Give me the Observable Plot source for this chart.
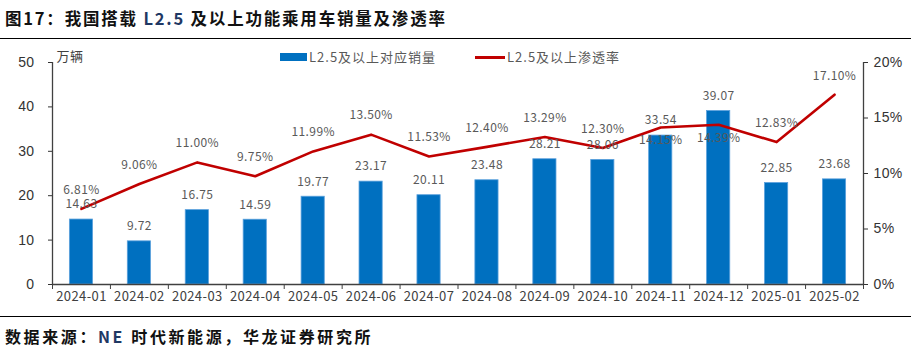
<!DOCTYPE html>
<html><head><meta charset="utf-8">
<script src="https://cdn.jsdelivr.net/npm/d3@7"></script>
<script src="https://cdn.jsdelivr.net/npm/@observablehq/plot@0.6"></script>
<style>
body{margin:0;background:#fff;}
#wrap{position:relative;width:911px;height:350px;overflow:hidden;font-family:"Noto Sans CJK SC",sans-serif;}
#title{position:absolute;left:5px;top:6px;font-size:16.5px;font-weight:bold;color:#111;white-space:nowrap;letter-spacing:1.8px;}
#rule1{position:absolute;left:0;top:38px;width:911px;height:0;border-top:1.5px solid #000;}
#chart{position:absolute;left:0;top:40px;}
#rule2{position:absolute;left:0;top:316px;width:911px;height:0;border-top:1.5px solid #000;}
#src{position:absolute;left:5px;top:324px;font-size:16px;font-weight:bold;color:#111;white-space:nowrap;letter-spacing:2.6px;}
.leg{position:absolute;font-size:13px;color:#595959;white-space:nowrap;letter-spacing:1px;}
svg text{letter-spacing:0.4px;}
</style></head>
<body>
<div id="wrap">
  <div id="title">图17：我国搭载 <span style="color:#1f3864">L2.5</span> 及以上功能乘用车销量及渗透率</div>
  <div id="rule1"></div>
  <div id="chart"></div>
  <div id="rule2"></div>
  <div id="src">数据来源：<span style="color:#1f3864">NE</span> 时代新能源，华龙证券研究所</div>
  <div style="position:absolute;left:280px;top:53px;width:27px;height:8px;background:#0070C0"></div>
  <div class="leg" style="left:309px;top:47px">L2.5及以上对应销量</div>
  <div style="position:absolute;left:475px;top:56px;width:30px;height:2.5px;background:#C00000"></div>
  <div class="leg" style="left:507px;top:47px">L2.5及以上渗透率</div>
</div>
<script>
const months = ["2024-01","2024-02","2024-03","2024-04","2024-05","2024-06","2024-07","2024-08","2024-09","2024-10","2024-11","2024-12","2025-01","2025-02"];
const sales = [14.63,9.72,16.75,14.59,19.77,23.17,20.11,23.48,28.21,28.06,33.54,39.07,22.85,23.68];
const rates = [6.81,9.06,11.00,9.75,11.99,13.50,11.53,12.40,13.29,12.30,14.15,14.39,12.83,17.10];
const leftTicks = [0,10,20,30,40,50];
const rightTicks = [0,5,10,15,20];
const unitLabel = "万辆";

const ratio = 50/20;
const data = months.map((m,i)=>({i, month:m, sales:sales[i], rate:rates[i], ry:rates[i]*ratio}));
const below = new Set(["2024-11","2024-12"]);
const labelFont = "Noto Sans CJK SC";

const chart = Plot.plot({
  width: 911, height: 276,
  marginLeft: 52, marginRight: 48, marginTop: 22, marginBottom: 32,
  style:{fontFamily:labelFont, background:"#fff"},
  x:{type:"linear", domain:[0,14], axis:null},
  y:{domain:[0,50], axis:null},
  marks:[
    Plot.rectY(data,{x1:d=>d.i+0.3,x2:d=>d.i+0.7,y:"sales",fill:"#0070C0",stroke:"#5aa0dc",strokeWidth:0.8}),
    Plot.ruleY([0],{stroke:"#404040",strokeWidth:1.3}),
    Plot.ruleX([0],{y1:0,y2:50,stroke:"#404040",strokeWidth:1.3}),
    Plot.ruleX([14],{y1:0,y2:50,stroke:"#404040",strokeWidth:1.3}),
    Plot.axisY({anchor:"left",ticks:leftTicks,tickSize:4,tickPadding:14,fontSize:14,fontFamily:"Liberation Sans, Arial",color:"#333",tickFormat:d=>String(d)}),
    Plot.axisY({anchor:"right",ticks:rightTicks.map(t=>t*ratio),tickSize:4,tickPadding:6,fontSize:14,fontFamily:"Liberation Sans, Arial",color:"#333",tickFormat:d=>Math.round(d/ratio)+"%"}),
    Plot.axisX({anchor:"bottom",ticks:d3.range(15),tickSize:5,tickFormat:()=>"",color:"#404040"}),
    Plot.axisX({anchor:"bottom",ticks:data.map(d=>d.i+0.5),tickSize:0,tickPadding:7,fontSize:13,color:"#404040",tickFormat:d=>months[Math.round(d-0.5)]}),
    Plot.line(data,{x:d=>d.i+0.5,y:"ry",stroke:"#C00000",strokeWidth:2.6}),
    Plot.text(data,{x:d=>d.i+0.5,y:"sales",text:d=>d.sales.toFixed(2),dy:-15,fontSize:12,fill:"#595959"}),
    Plot.text(data.filter(d=>!below.has(d.month)),{x:d=>d.i+0.5,y:"ry",text:d=>d.rate.toFixed(2)+"%",dy:-19,fontSize:12,fill:"#595959"}),
    Plot.text(data.filter(d=>below.has(d.month)),{x:d=>d.i+0.5,y:"ry",text:d=>d.rate.toFixed(2)+"%",dy:13,fontSize:12,fill:"#595959"}),
    Plot.text([unitLabel],{x:0,y:50,text:d=>d,dx:4,dy:-6,textAnchor:"start",fontSize:13,fill:"#404040"})
  ]
});
document.getElementById("chart").appendChild(chart);
</script>
</body></html>
